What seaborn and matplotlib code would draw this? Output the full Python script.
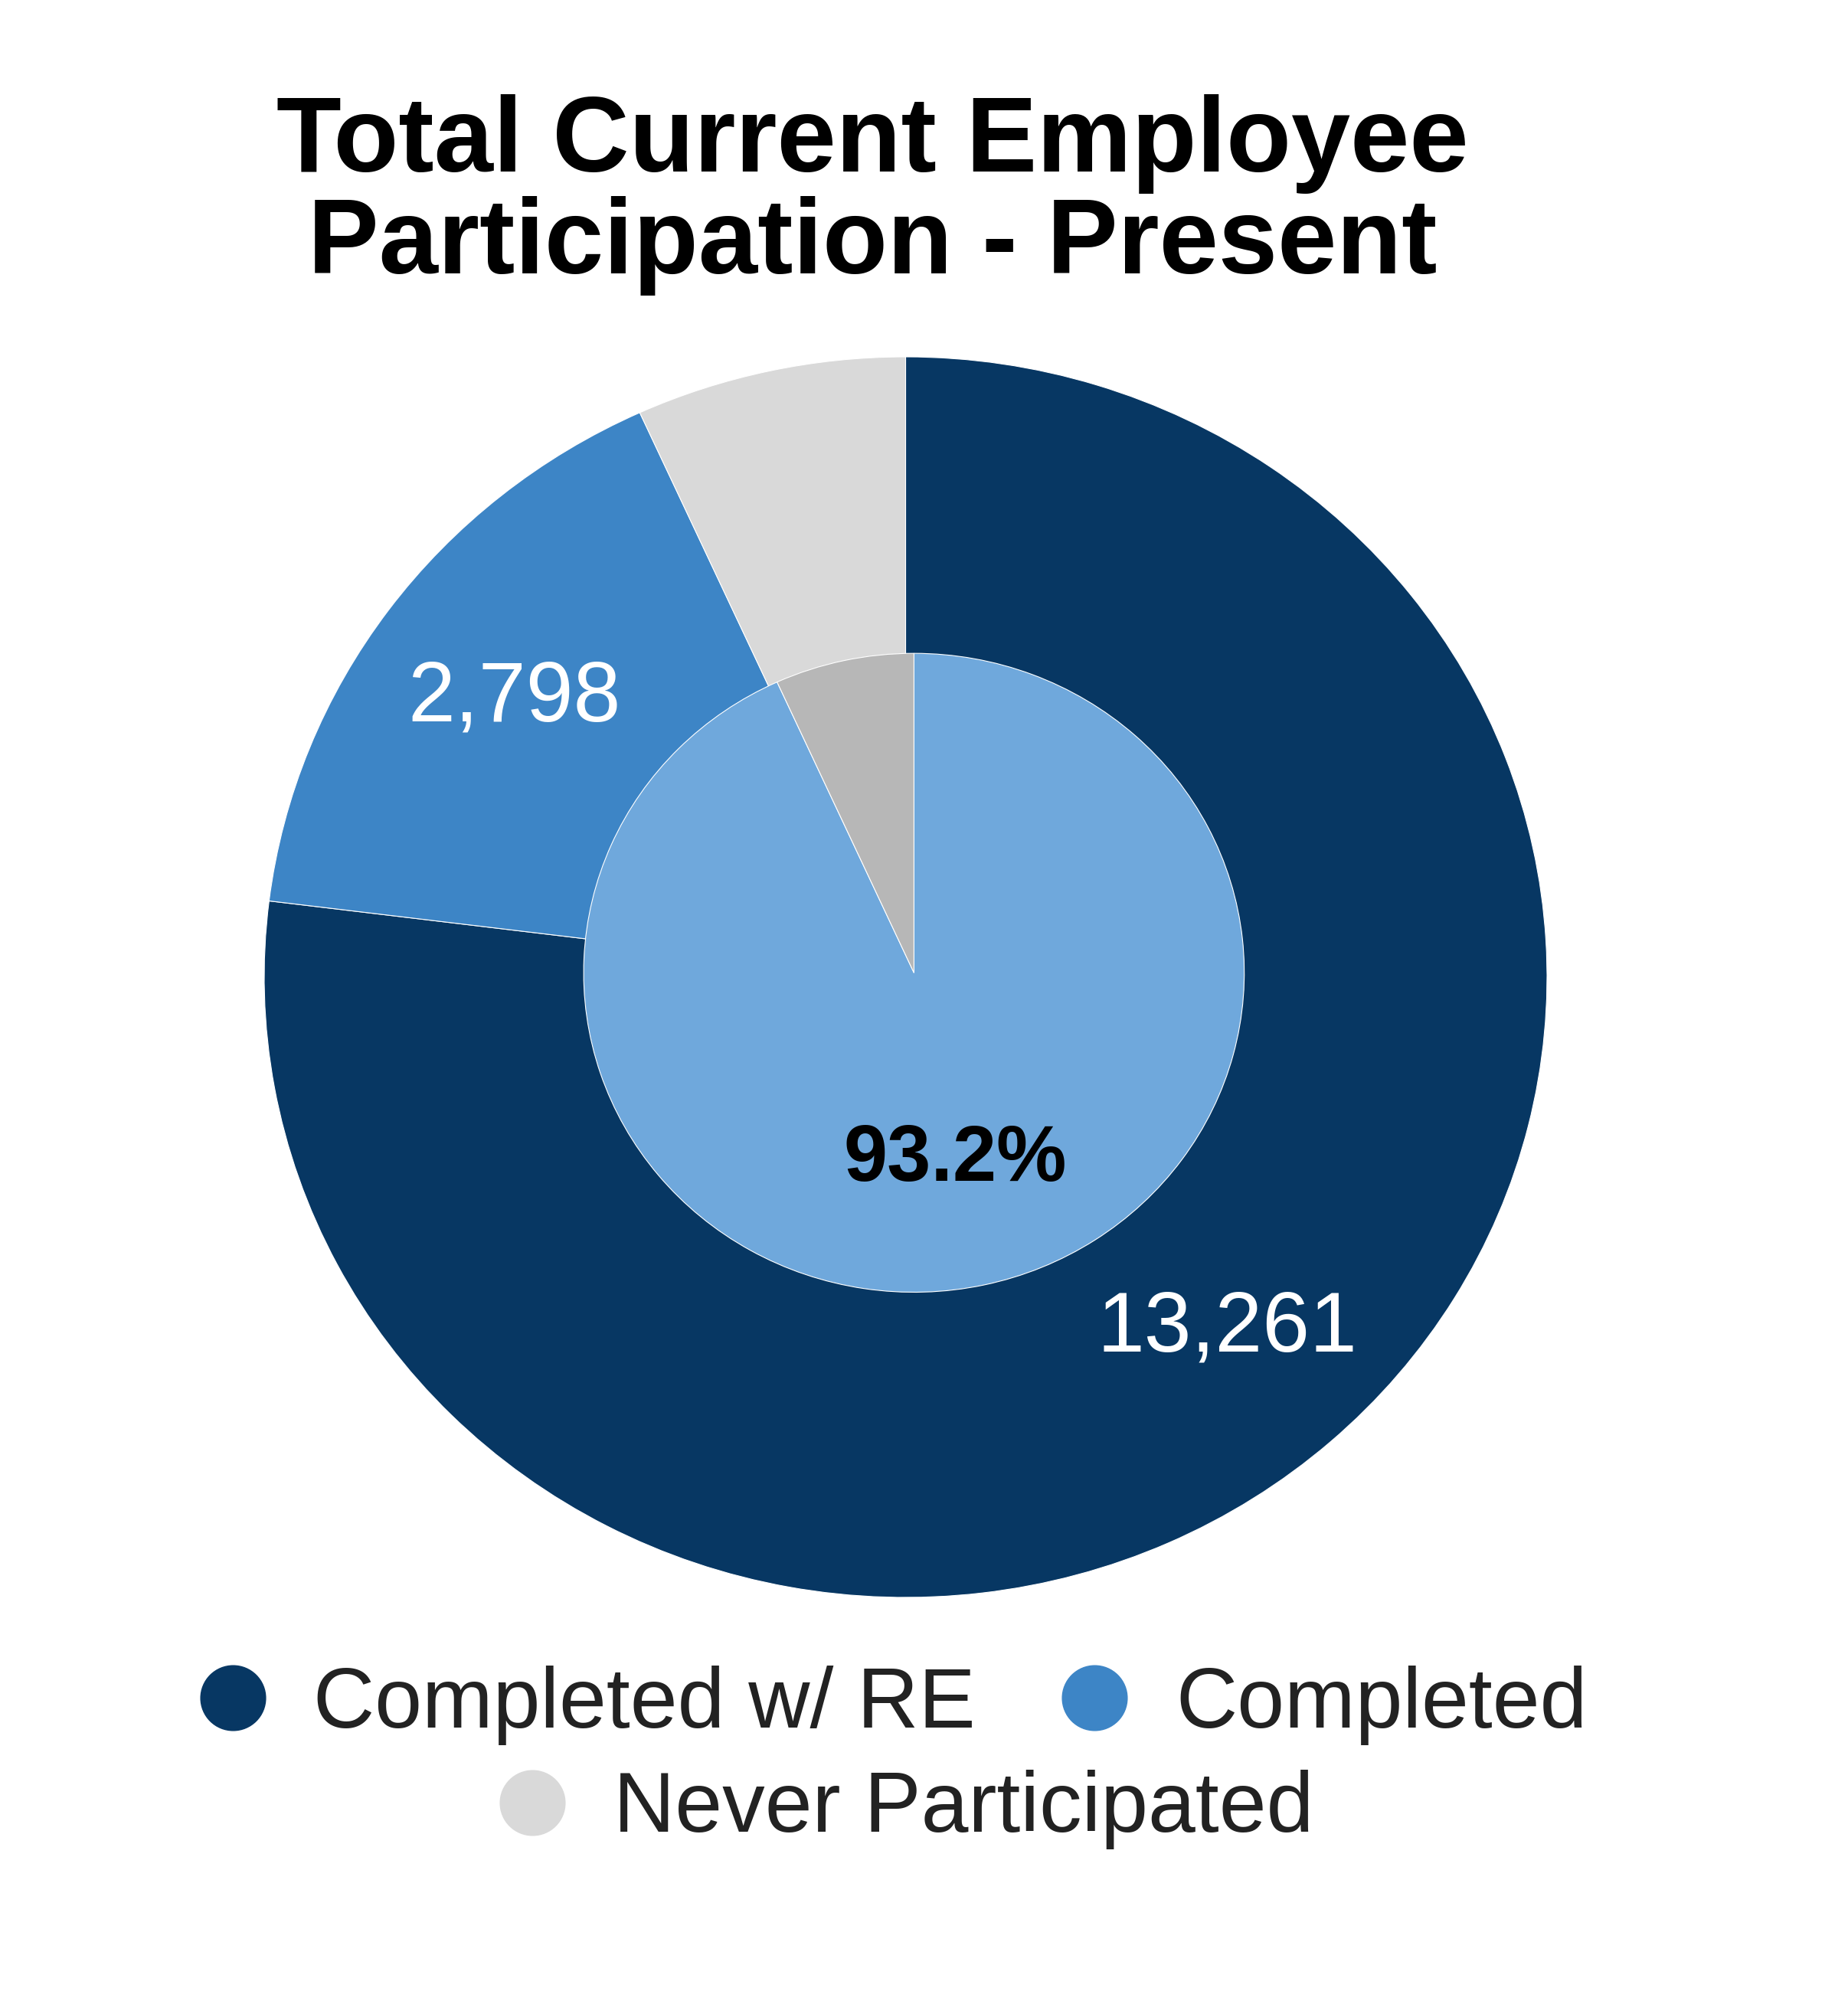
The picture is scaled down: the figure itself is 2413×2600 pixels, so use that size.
import numpy as np
import matplotlib
matplotlib.use("Agg")
import matplotlib.pyplot as plt
from matplotlib.lines import Line2D
import seaborn as sns

# data
categories = ["Completed w/ RE", "Completed", "Never Participated"]
counts = [13261, 2798, 1172]
inner_labels = ["Participated", "Never Participated"]
inner_pct = [93.2, 6.8]

outer_colors = ["#073763", "#3d85c6", "#d9d9d9"]
inner_colors = ["#6fa8dc", "#b7b7b7"]

sns.set_theme(style="white")
plt.rcParams["font.family"] = ["Liberation Sans", "DejaVu Sans"]

W, H = 2413, 2600
fig = plt.figure(figsize=(W / 100, H / 100), dpi=100)
fig.patch.set_facecolor("white")

# axes spans the outer ring's bounding box
ax = fig.add_axes([345 / W, 1 - 2086 / H, (2020 - 345) / W, (2086 - 466) / H])

wedges, _ = ax.pie(counts, colors=outer_colors, startangle=90, counterclock=False,
                   radius=1.0, wedgeprops=dict(edgecolor="white", linewidth=0.8))

inner_center = (0.013, 0.007)
inner_r = 0.515
iw, _ = ax.pie(inner_pct, colors=inner_colors, startangle=90, counterclock=False,
               radius=inner_r, center=inner_center,
               wedgeprops=dict(edgecolor="white", linewidth=0.8))

ax.set_aspect("auto")
ax.set_xlim(-1, 1)
ax.set_ylim(-1, 1)
ax.axis("off")

# count labels in the ring (skip the small grey slice)
ring_mid = (1.0 + inner_r) / 2
for w, n in zip(wedges[:2], counts[:2]):
    ang = np.deg2rad((w.theta1 + w.theta2) / 2)
    ax.text(ring_mid * np.cos(ang), ring_mid * np.sin(ang), f"{n:,}",
            ha="center", va="center", color="white", fontsize=80)

# percentage on inner pie
w = iw[0]
ang = np.deg2rad((w.theta1 + w.theta2) / 2)
d = 0.585 * inner_r
ax.text(inner_center[0] + d * np.cos(ang), inner_center[1] + d * np.sin(ang) - 0.008,
        f"{inner_pct[0]}%", ha="center", va="center", color="black",
        fontsize=74, fontweight="bold")

# title
fig.text(0.472, 1 - 224 / H, "Total Current Employee", ha="center", va="baseline",
         fontsize=100, fontweight="bold", color="black")
fig.text(0.472, 1 - 357 / H, "Participation - Present", ha="center", va="baseline",
         fontsize=100, fontweight="bold", color="black")

# legend: two entries on first row, one centred below
def handle(c):
    return Line2D([], [], marker="o", linestyle="none", markersize=61,
                  markerfacecolor=c, markeredgecolor=c)

leg_kw = dict(frameon=False, fontsize=80, handlelength=0.9, handletextpad=0.5,
              borderpad=0, labelcolor="#222222", loc="center")
fig.legend([handle(c) for c in outer_colors[:2]], categories[:2], ncol=2,
           columnspacing=0.95, bbox_to_anchor=(0.482, 0.1435), **leg_kw)
fig.legend([handle(outer_colors[2])], categories[2:], ncol=1,
           bbox_to_anchor=(0.489, 0.091), **leg_kw)

fig.savefig("out.png", dpi=100, facecolor="white")
